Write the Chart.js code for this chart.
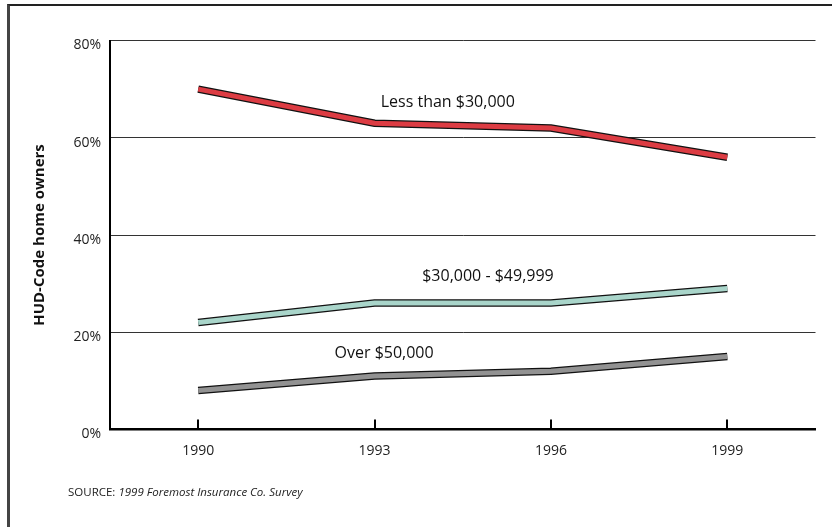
<!DOCTYPE html>
<html>
<head>
<meta charset="utf-8">
<script src="https://cdn.jsdelivr.net/npm/chart.js@4/dist/chart.umd.min.js"></script>
<style>
  html, body { margin: 0; padding: 0; background: #fff; }
  #wrap { position: relative; width: 832px; height: 527px; overflow: hidden; }
  #frame { position: absolute; left: 7px; top: 4px; right: -10px; bottom: -10px;
           border-top: 2px solid #222; border-left: 3px solid #444; pointer-events: none; }
  #source { position: absolute; left: 68px; top: 484px; font-family: "Open Sans", sans-serif;
            font-size: 11.5px; color: #222; white-space: nowrap; }
  #source i { font-style: italic; }
  canvas { position: absolute; left: 0; top: 0; }
</style>
</head>
<body>
<div id="wrap">
  <canvas id="c" width="832" height="527"></canvas>
  <div id="frame"></div>
  <div id="source">SOURCE: <i>1999 Foremost Insurance Co. Survey</i></div>
</div>
<script>
// ---- data ----
const years = ["1990", "1993", "1996", "1999"];
const lessThan30k = [70, 63, 62, 56];
const from30to50k = [22, 26, 26, 29];
const over50k = [8, 11, 12, 15];
const yTicks = [0, 20, 40, 60, 80];
const seriesNames = ["Less than $30,000", "$30,000 - $49,999", "Over $50,000"];

// ---- styles ----
const colors = ["#dc3c43", "#a9d5ca", "#929292"];
const labelSpots = [ [1.415, 67.3], [1.643, 31.4], [1.054, 15.6] ]; // [category index, value] for in-plot labels

const seriesData = [lessThan30k, from30to50k, over50k];
const datasets = [];
seriesData.forEach((d, i) => {
  datasets.push({ label: seriesNames[i] + " outline", data: d, borderColor: "#111", borderWidth: 7.5,
                  order: 1, pointRadius: 0, borderJoinStyle: "miter", borderCapStyle: "butt", tension: 0 });
  datasets.push({ label: seriesNames[i], data: d, borderColor: colors[i], borderWidth: 5,
                  order: 0, pointRadius: 0, borderJoinStyle: "miter", borderCapStyle: "butt", tension: 0 });
});

const extras = {
  id: "extras",
  afterDatasetsDraw(chart) {
    const ctx = chart.ctx, xs = chart.scales.x, ys = chart.scales.y;
    ctx.save();
    // inward tick marks on x axis
    ctx.strokeStyle = "#000"; ctx.lineWidth = 2;
    years.forEach((_, i) => {
      const px = Math.round(xs.getPixelForTick(i));
      ctx.beginPath();
      ctx.moveTo(px, ys.bottom);
      ctx.lineTo(px, ys.bottom - 10);
      ctx.stroke();
    });
    // series labels
    ctx.fillStyle = "#111";
    ctx.font = "16px 'Open Sans', sans-serif";
    ctx.textAlign = "center"; ctx.textBaseline = "middle";
    seriesNames.forEach((n, i) => {
      ctx.fillText(n, xs.getPixelForValue(labelSpots[i][0]), ys.getPixelForValue(labelSpots[i][1]));
    });
    ctx.restore();
  }
};

new Chart(document.getElementById("c"), {
  type: "line",
  data: { labels: years, datasets },
  options: {
    responsive: false,
    animation: false,
    devicePixelRatio: 1,
    layout: { padding: { top: 40.5, right: 16.5, bottom: 0, left: 0 } },
    plugins: { legend: { display: false }, tooltip: { enabled: false } },
    elements: { line: { clip: false } },
    scales: {
      x: {
        type: "category",
        offset: true,
        grid: { display: false, drawTicks: false },
        border: { display: true, color: "#000", width: 2.5 },
        ticks: { color: "#222", font: { family: "Open Sans", size: 14 }, padding: 13 },
        afterFit(s) { s.height = 97.5; }
      },
      y: {
        min: 0, max: 80,
        afterBuildTicks(s) { s.ticks = yTicks.map(v => ({ value: v })); },
        grid: { color: "#333", lineWidth: 1, drawTicks: false },
        border: { display: true, color: "#000", width: 2 },
        ticks: { color: "#222", font: { family: "Open Sans", size: 14 }, padding: 9, labelOffset: 5,
                 callback: v => v + "%" },
        title: { display: true, text: "HUD-Code home owners", color: "#111",
                 font: { family: "Open Sans", size: 15, weight: "bold" }, padding: { top: 31, bottom: 0 } },
        afterFit(s) { s.width = 110; }
      }
    }
  },
  plugins: [extras]
});
</script>
</body>
</html>
